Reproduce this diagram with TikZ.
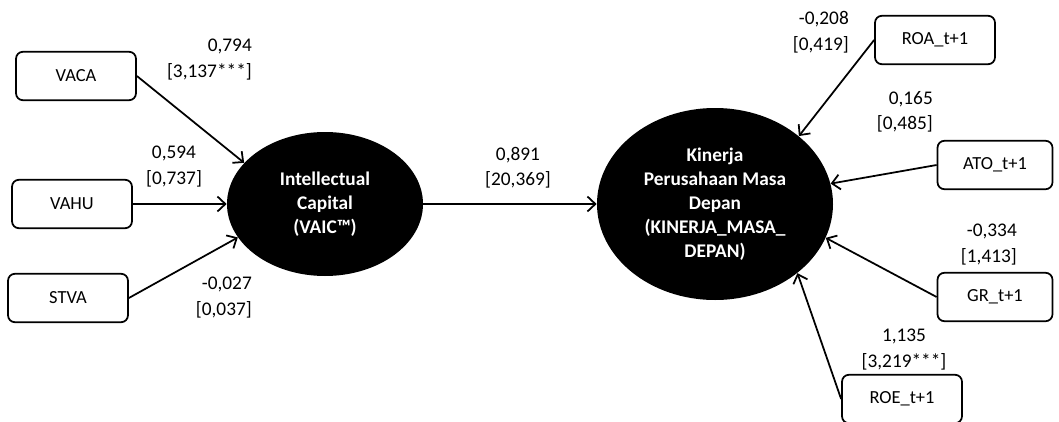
\documentclass[tikz,border=0pt]{standalone}
\usepackage{fontspec}
\setmainfont{Carlito}
\usepackage{tikz}
\usetikzlibrary{arrows.meta, shapes.geometric}

\begin{document}
\begin{tikzpicture}[
    indik/.style={draw, line width=1pt, rounded corners=4pt, minimum width=2.4cm, minimum height=0.97cm, font=\fontsize{10.5}{13}\selectfont},
    latent/.style={ellipse, fill=black, text=white, align=center, inner sep=0pt, font=\bfseries\fontsize{11}{13.6}\selectfont},
    coef/.style={align=center, font=\fontsize{11}{14.5}\selectfont},
    path/.style={line width=1pt, -{Straight Barb[length=4.5pt, width=8.5pt, line width=1pt]}}
  ]
  \useasboundingbox (0,0) rectangle (21.18,8.42);
  % Konstruk laten
  \node[latent, minimum width=3.92cm, minimum height=2.88cm] (ic) at (6.50,4.34) {Intellectual\\Capital\\(VAIC™)};
  \node[latent, minimum width=4.72cm, minimum height=3.84cm] (kp) at (14.30,4.34) {Kinerja\\Perusahaan Masa\\Depan\\(KINERJA\_MASA\_\\DEPAN)};
  % Indikator VAIC
  \node[indik] (vaca) at (1.52,6.90) {VACA};
  \node[indik] (vahu) at (1.44,4.34) {VAHU};
  \node[indik] (stva) at (1.36,2.46) {STVA};
  % Indikator kinerja t+1
  \node[indik] (roa) at (18.70,7.62) {ROA\_t+1};
  \node[indik, minimum width=2.3cm] (ato) at (19.90,5.12) {ATO\_t+1};
  \node[indik, minimum width=2.3cm] (gr) at (19.90,2.48) {GR\_t+1};
  \node[indik] (roe) at (18.04,0.44) {ROE\_t+1};
  % Jalur
  \draw[path] (vaca.east) -- (ic.153);
  \draw[path] (vahu.east) -- (ic.west);
  \draw[path] (stva.east) -- (ic.201);
  \draw[path] (ic.east) -- (kp.west);
  \draw[path] (roa.west) -- (kp.39);
  \draw[path] (ato.west) -- (kp.10);
  \draw[path] (gr.west) -- (kp.343);
  \draw[path] (roe.west) -- (kp.320);
  % Koefisien [t-statistik]
  \node[coef, align=right, anchor=east] (c-vaca) at (5.16,7.23) {0,794\\[0pt][3,137***]};
  \node[coef] (c-vahu) at (3.48,5.09) {0,594\\[0pt][0,737]};
  \node[coef, align=right, anchor=east] (c-stva) at (5.16,2.47) {-0,027\\[0pt][0,037]};
  \node[coef] (c-ic) at (10.36,5.07) {0,891\\[0pt][20,369]};
  \node[coef, align=right, anchor=east] (c-roa) at (17.10,7.78) {-0,208\\[0pt][0,419]};
  \node[coef, align=right, anchor=east] (c-ato) at (18.78,6.18) {0,165\\[0pt][0,485]};
  \node[coef, align=right, anchor=east] (c-gr) at (20.46,3.53) {-0,334\\[0pt][1,413]};
  \node[coef] (c-roe) at (18.08,1.43) {1,135\\[0pt][3,219***]};
\end{tikzpicture}
\end{document}
